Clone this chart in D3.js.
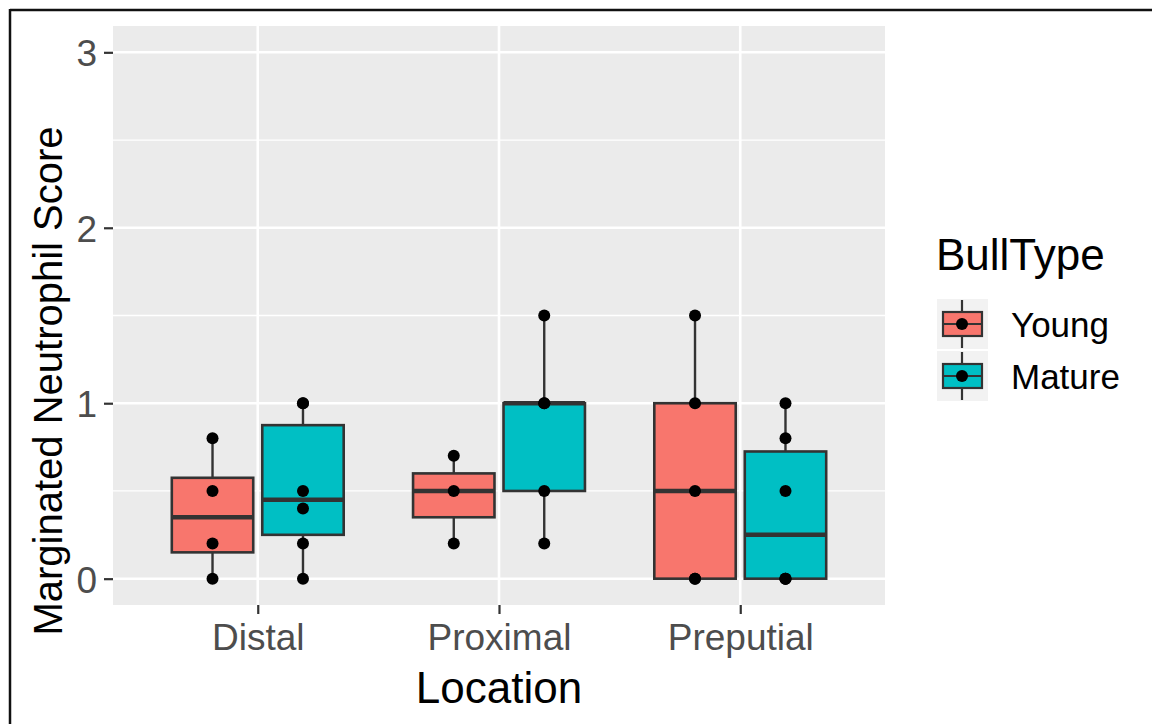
<!DOCTYPE html>
<html>
<head>
<meta charset="utf-8">
<script src="https://cdn.jsdelivr.net/npm/d3@7"></script>
<style>
  html, body { margin: 0; padding: 0; background: #fff; }
  svg { display: block; font-family: "Liberation Sans", Arial, sans-serif; }
</style>
</head>
<body>
<svg id="chart" width="1152" height="724"></svg>
<script>
// ---- data ----
const categories = ["Distal", "Proximal", "Preputial"];
const bullTypes = ["Young", "Mature"];
const youngScores = [[0, 0.2, 0.5, 0.8], [0.2, 0.5, 0.7], [0, 0, 0.5, 1, 1.5]];
const matureScores = [[0, 0.2, 0.4, 0.5, 1, 1], [0.2, 0.5, 1, 1, 1.5], [0, 0, 0, 0.5, 0.8, 1]];
const yTicks = [0, 1, 2, 3];
const yMinorTicks = [0.5, 1.5, 2.5];
const fillColors = ["#F8766D", "#00BFC4"];
const xTitle = "Location";
const yTitle = "Marginated Neutrophil Score";
const legendTitle = "BullType";

const seriesScores = [youngScores, matureScores];

// ---- layout ----
const panel = { left: 113, right: 885, top: 26, bottom: 605 };
const svg = d3.select("#chart");

// ggplot discrete expansion 0.6 units each side
const xPos = d3.scalePoint().domain(categories)
  .range([panel.left, panel.right]).padding(0.6);
const unit = xPos.step();
const dodge = d3.scaleBand().domain(bullTypes).range([-0.375 * unit, 0.375 * unit]);
const boxW = dodge.bandwidth() * 0.9;

const y = d3.scaleLinear().domain([-0.15, 3.15]).range([panel.bottom, panel.top]);

// outer border
svg.append("line").attr("x1", 10).attr("x2", 1152).attr("y1", 10).attr("y2", 10)
  .attr("stroke", "#111").attr("stroke-width", 2.5);
svg.append("line").attr("x1", 10).attr("x2", 10).attr("y1", 9).attr("y2", 724)
  .attr("stroke", "#111").attr("stroke-width", 2.5);

// panel background
svg.append("rect").attr("x", panel.left).attr("y", panel.top)
  .attr("width", panel.right - panel.left).attr("height", panel.bottom - panel.top)
  .attr("fill", "#EBEBEB");

const grid = svg.append("g");
grid.selectAll(".minor").data(yMinorTicks).join("line")
  .attr("x1", panel.left).attr("x2", panel.right)
  .attr("y1", d => y(d)).attr("y2", d => y(d))
  .attr("stroke", "#fff").attr("stroke-width", 1.3);
grid.selectAll(".major").data(yTicks).join("line")
  .attr("x1", panel.left).attr("x2", panel.right)
  .attr("y1", d => y(d)).attr("y2", d => y(d))
  .attr("stroke", "#fff").attr("stroke-width", 2.6);
grid.selectAll(".vmajor").data(categories).join("line")
  .attr("x1", d => xPos(d)).attr("x2", d => xPos(d))
  .attr("y1", panel.top).attr("y2", panel.bottom)
  .attr("stroke", "#fff").attr("stroke-width", 2.6);

// ---- boxplots ----
function stats(vals) {
  const s = vals.slice().sort(d3.ascending);
  const q1 = d3.quantile(s, 0.25), med = d3.quantile(s, 0.5), q3 = d3.quantile(s, 0.75);
  const iqr = q3 - q1;
  const lo = d3.min(s.filter(v => v >= q1 - 1.5 * iqr));
  const hi = d3.max(s.filter(v => v <= q3 + 1.5 * iqr));
  return { q1, med, q3, lo, hi };
}

const boxes = [];
const points = [];
bullTypes.forEach((bt, gi) => {
  categories.forEach((cat, ci) => {
    const vals = seriesScores[gi][ci];
    const cx = xPos(cat) + dodge(bt) + dodge.bandwidth() / 2;
    boxes.push({ cx, fill: fillColors[gi], ...stats(vals) });
    vals.forEach(v => points.push({ cx, v }));
  });
});

const bg = svg.append("g");
boxes.forEach(b => {
  const g = bg.append("g");
  g.append("line").attr("x1", b.cx).attr("x2", b.cx).attr("y1", y(b.hi)).attr("y2", y(b.q3))
    .attr("stroke", "#333").attr("stroke-width", 2.4);
  g.append("line").attr("x1", b.cx).attr("x2", b.cx).attr("y1", y(b.q1)).attr("y2", y(b.lo))
    .attr("stroke", "#333").attr("stroke-width", 2.4);
  g.append("rect").attr("x", b.cx - boxW / 2).attr("y", y(b.q3))
    .attr("width", boxW).attr("height", Math.max(0, y(b.q1) - y(b.q3)))
    .attr("fill", b.fill).attr("stroke", "#333").attr("stroke-width", 2.6);
  g.append("line").attr("x1", b.cx - boxW / 2).attr("x2", b.cx + boxW / 2)
    .attr("y1", y(b.med)).attr("y2", y(b.med))
    .attr("stroke", "#333").attr("stroke-width", 4.4);
});

svg.append("g").selectAll("circle").data(points).join("circle")
  .attr("cx", d => d.cx).attr("cy", d => y(d.v)).attr("r", 6).attr("fill", "#000");

// ---- axes ----
const yAxis = d3.axisLeft(y).tickValues(yTicks).tickSize(9).tickPadding(7).tickFormat(d3.format("d"));
const gy = svg.append("g").attr("transform", `translate(${panel.left},0)`).call(yAxis);
gy.select(".domain").remove();
gy.selectAll(".tick line").attr("stroke", "#333").attr("stroke-width", 2.2);
gy.selectAll(".tick text").attr("fill", "#4D4D4D").attr("font-size", 37)
  .attr("font-family", "Liberation Sans, Arial, sans-serif").attr("dy", "0.36em");

const xAxis = d3.axisBottom(xPos).tickSize(9).tickPadding(10);
const gx = svg.append("g").attr("transform", `translate(0,${panel.bottom})`).call(xAxis);
gx.select(".domain").remove();
gx.selectAll(".tick line").attr("stroke", "#333").attr("stroke-width", 2.2);
gx.selectAll(".tick text").attr("fill", "#4D4D4D").attr("font-size", 37)
  .attr("font-family", "Liberation Sans, Arial, sans-serif").attr("dy", "0.71em");

// axis titles
svg.append("text").attr("x", (panel.left + panel.right) / 2).attr("y", 703)
  .attr("text-anchor", "middle").attr("font-size", 44).attr("fill", "#000").text(xTitle);
svg.append("text").attr("transform", `translate(62,381) rotate(-90)`)
  .attr("text-anchor", "middle").attr("font-size", 40).attr("fill", "#000").text(yTitle);

// ---- legend ----
const lg = svg.append("g");
lg.append("text").attr("x", 936).attr("y", 270).attr("font-size", 44).attr("fill", "#000").text(legendTitle);
const keyY = [299, 351];
bullTypes.forEach((bt, i) => {
  const ky = keyY[i];
  const g = lg.append("g");
  g.append("rect").attr("x", 937).attr("y", ky).attr("width", 51).attr("height", 50).attr("fill", "#F2F2F2");
  const cx = 962, cy = ky + 25;
  g.append("line").attr("x1", cx).attr("x2", cx).attr("y1", ky + 1).attr("y2", ky + 49)
    .attr("stroke", "#333").attr("stroke-width", 2.2);
  g.append("rect").attr("x", 943).attr("y", ky + 13).attr("width", 39).attr("height", 24)
    .attr("fill", fillColors[i]).attr("stroke", "#333").attr("stroke-width", 2.2);
  g.append("line").attr("x1", 943).attr("x2", 982).attr("y1", cy).attr("y2", cy)
    .attr("stroke", "#333").attr("stroke-width", 2.2);
  g.append("circle").attr("cx", cx).attr("cy", cy).attr("r", 6).attr("fill", "#000");
  g.append("text").attr("x", 1011).attr("y", ky + 38).attr("font-size", 35).attr("fill", "#000").text(bt);
});
</script>
</body>
</html>
